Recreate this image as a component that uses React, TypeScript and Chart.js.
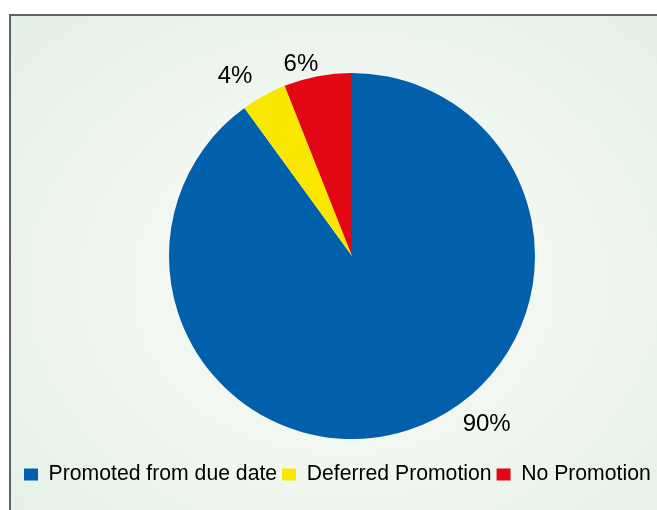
import React, { useEffect, useRef } from "react";
import { Chart, registerables } from "chart.js";

Chart.register(...registerables);

const categories: string[] = ["Promoted from due date", "Deferred Promotion", "No Promotion"];
const shares: number[] = [90, 4, 6];
const sliceColors: string[] = ["#0160AB", "#FAE700", "#E30613"];

const FONT = "'Liberation Sans', Arial, sans-serif";

const frameLayoutPlugin = {
  id: "frameLayout",
  afterLayout(chart: any, _args: any, opts: any) {
    const a = chart.chartArea;
    const halfW = Math.min(a.right - opts.cx, opts.cx - a.left);
    const halfH = Math.min(a.bottom - opts.cy, opts.cy - a.top);
    a.left = opts.cx - halfW;
    a.right = opts.cx + halfW;
    a.top = opts.cy - halfH;
    a.bottom = opts.cy + halfH;
    a.width = a.right - a.left;
    a.height = a.bottom - a.top;
  },
};

const outsideLabelsPlugin = {
  id: "outsideLabels",
  afterDatasetsDraw(chart: any, _args: any, opts: any) {
    const ctx = chart.ctx;
    const meta = chart.getDatasetMeta(0);
    const values = chart.data.datasets[0].data;
    ctx.save();
    ctx.font = `${opts.size}px ${FONT}`;
    ctx.fillStyle = opts.color;
    ctx.textAlign = "center";
    ctx.textBaseline = "middle";
    meta.data.forEach((arc: any, i: number) => {
      const p = arc.getProps(["x", "y", "startAngle", "endAngle", "outerRadius"], true);
      const ang = (p.startAngle + p.endAngle) / 2 + ((opts.angleShift[i] || 0) * Math.PI) / 180;
      const d = p.outerRadius + (opts.offset[i] || 0);
      ctx.fillText(`${values[i]}%`, p.x + Math.cos(ang) * d, p.y + Math.sin(ang) * d + opts.dy);
    });
    ctx.restore();
  },
};

export default function App() {
  const ref = useRef<HTMLCanvasElement | null>(null);

  useEffect(() => {
    if (!ref.current) return;
    const chart = new Chart(ref.current, {
      type: "pie",
      data: {
        labels: categories,
        datasets: [
          {
            data: shares,
            backgroundColor: sliceColors,
            borderWidth: 0,
            radius: 183,
          },
        ],
      },
      options: {
        responsive: false,
        animation: false,
        layout: { padding: { left: 19, right: 0, top: 40, bottom: 15 } },
        plugins: {
          legend: {
            position: "bottom",
            align: "start",
            labels: {
              boxWidth: 14,
              boxHeight: 12,
              padding: 5,
              color: "#000",
              font: { family: FONT, size: 21.2 },
            },
          },
          tooltip: { enabled: false },
          frameLayout: { cx: 352, cy: 256 },
          outsideLabels: {
            size: 24,
            color: "#000",
            dy: 2,
            angleShift: [-21, -4, -4],
            offset: [31, 33, 17],
          },
        } as any,
      },
      plugins: [frameLayoutPlugin, outsideLabelsPlugin],
    });
    return () => chart.destroy();
  }, []);

  return (
    <div style={{ position: "absolute", left: 0, top: 0, width: 657, height: 510, overflow: "hidden", background: "#fff" }}>
      <div
        style={{
          position: "absolute",
          left: 9,
          top: 14,
          width: 670,
          height: 520,
          border: "2px solid #626262",
          boxSizing: "border-box",
          background: "radial-gradient(ellipse farthest-corner at 50% 52%, #f6f9f6 0%, #f2f7f2 45%, #e3f0e5 100%)",
        }}
      />
      <canvas
        ref={ref}
        width={657}
        height={510}
        style={{ position: "absolute", left: 0, top: 0, width: 657, height: 510 }}
      />
    </div>
  );
}
